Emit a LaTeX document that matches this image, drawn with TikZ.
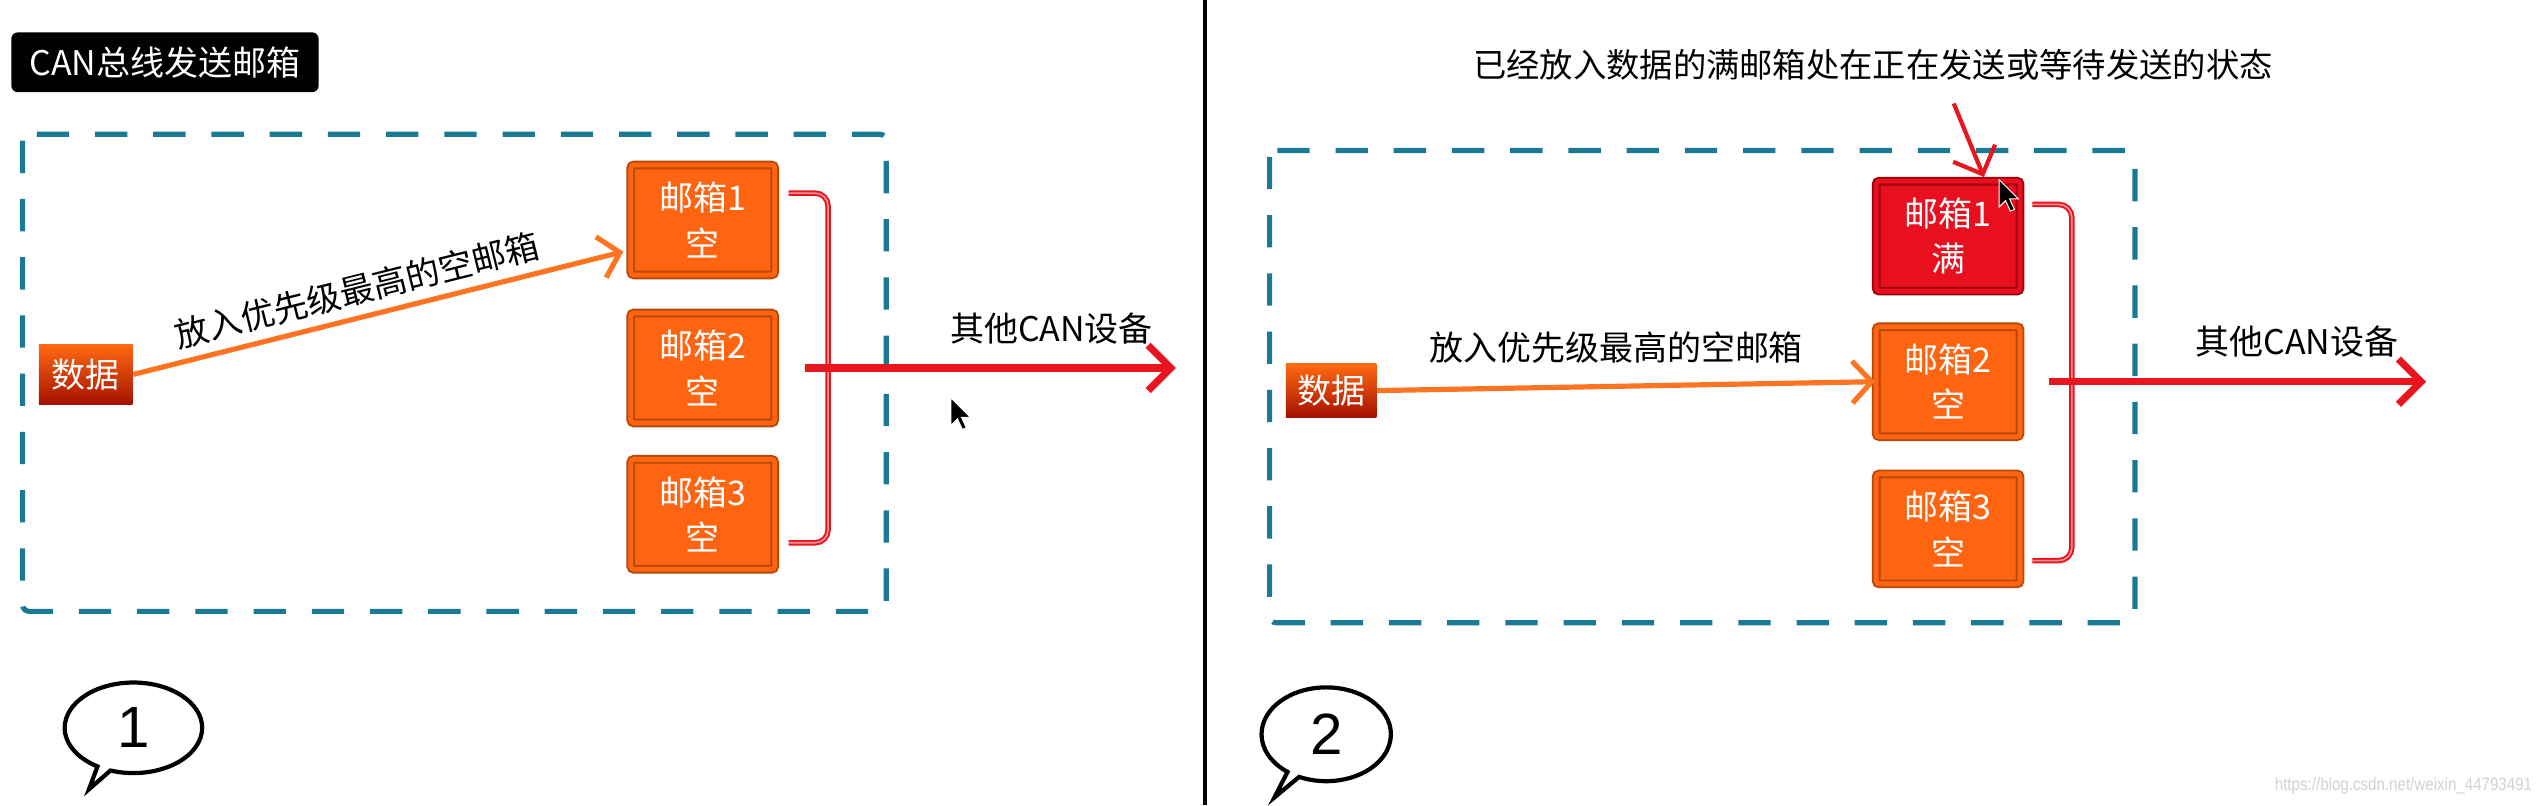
\documentclass[tikz,border=0pt]{standalone}
\usepackage{fontspec}
\usepackage{graphicx}
\setmainfont{Noto Sans CJK SC}
\newfontfamily\numfont{Liberation Sans}
\usetikzlibrary{arrows.meta,shapes.callouts,calc}
\definecolor{mbfill}{HTML}{FF6410}
\definecolor{mbborder}{HTML}{B8480A}
\definecolor{mbfullfill}{HTML}{E8101E}
\definecolor{mbfullborder}{HTML}{9A000E}
\definecolor{frameteal}{HTML}{1B7A93}
\definecolor{arrorange}{HTML}{FF7422}
\definecolor{arrred}{HTML}{E8141E}
\definecolor{datatop}{HTML}{FF6A12}
\definecolor{databot}{HTML}{A51000}
\tikzset{
  mailbox/.style={draw=mbborder, line width=0.6pt, double=mbfill, double distance=1.5pt,
    fill=mbfill, minimum width=44.5pt, minimum height=34pt, inner sep=0pt, align=center,
    text=white, font=\fontsize{10.5}{14}\selectfont, rounded corners=1pt},
  fullbox/.style={mailbox, draw=mbfullborder, double=mbfullfill, fill=mbfullfill},
  databox/.style={top color=datatop, bottom color=databot, draw=none, text=white,
    inner sep=0pt, font=\fontsize{10.5}{12}\selectfont},
  frame/.style={draw=frameteal, line width=1.6pt, dash pattern=on 10pt off 8pt, rounded corners=2pt},
  orangearrow/.style={draw=arrorange, line width=1.6pt, -{Straight Barb[length=6pt,width=13pt]}},
  redarrow/.style={draw=arrred, line width=2.2pt, -{Straight Barb[length=7pt,width=14pt]}},
  bracketline/.style={draw=arrred, line width=0.6pt, double=arrred!45!white, double distance=0.5pt, rounded corners=4pt},
  lbl/.style={text=black, font=\fontsize{10.5}{12}\selectfont},
  bubble/.style={ellipse callout, draw=black, line width=1.3pt, fill=white, inner sep=0pt,
    callout pointer arc=12, font=\numfont\fontsize{18}{18}\selectfont},
  cursor/.pic={\filldraw[fill=black, draw=white, line width=0.3pt] (0,0) -- (0,17) -- (4,13) -- (7,19.5) -- (9.5,18.5) -- (6.5,12) -- (12,12) -- cycle;}
}
\begin{document}
\begin{tikzpicture}[x=0.5pt,y=-0.5pt]
\useasboundingbox (0,0) rectangle (1568,498);
\fill[white] (0,0) rectangle (1568,498);

% separator
\draw[line width=1.2pt] (745,0) -- (745,498);

% ===== left panel =====
\node[fill=black, rounded corners=2pt, minimum width=95pt, minimum height=18.5pt, text=white,
  font=\fontsize{10.5}{12}\selectfont] (title) at (102,38.5) {CAN总线发送邮箱};
\draw[frame] (14,83) rectangle (548,378);

\node[mailbox] (mb1) at (434.5,136) {邮箱1\\空};
\node[mailbox] (mb2) at (434.5,227.5) {邮箱2\\空};
\node[mailbox] (mb3) at (434.5,318) {邮箱3\\空};
\node[databox, minimum width=29pt, minimum height=18.5pt] (d1) at (53,231.5) {数据};

\coordinate (b1s) at ([xshift=4pt,yshift=-9pt]mb1.north east);
\coordinate (b1e) at ([xshift=4pt,yshift=8.5pt]mb3.south east);
\coordinate (j1) at (512,227.5);
\coordinate (o1) at (727,227.5);
\draw[bracketline] (b1s) -| (j1) |- (b1e);
\draw[redarrow] ([xshift=9pt]mb2.east) -- node[lbl, pos=0.665, above=3pt] {其他CAN设备} (o1);

\draw[orangearrow] (d1.east) -- node[lbl, sloped, above, pos=0.47, inner sep=2.8pt] {放入优先级最高的空邮箱}
  ([xshift=-2pt,yshift=7.5pt]mb1.south west);

\pic at (588,246) {cursor};

\node[bubble, minimum width=42.5pt, minimum height=28pt, callout absolute pointer={(55,488)}] (bub1) at (82.5,450) {1};

% ===== right panel =====
\draw[frame] (785,93) rectangle (1320,385);
\node[lbl, font=\fontsize{10.3}{12}\selectfont] (note) at (1158,40) {已经放入数据的满邮箱处在正在发送或等待发送的状态};

\node[fullbox] (mb1r) at (1204.5,146) {邮箱1\\满};
\node[mailbox] (mb2r) at (1204.5,236) {邮箱2\\空};
\node[mailbox] (mb3r) at (1204.5,327) {邮箱3\\空};
\node[databox, minimum width=28pt, minimum height=16.5pt] (d2) at (823,241.5) {数据};

\coordinate (b2s) at ([xshift=3.5pt,yshift=-7.5pt]mb1r.north east);
\coordinate (b2e) at ([xshift=3.5pt,yshift=7.5pt]mb3r.south east);
\coordinate (j2) at (1281,236);
\coordinate (o2) at (1500,236);
\draw[bracketline] (b2s) -| (j2) |- (b2e);
\draw[redarrow] ([xshift=8.5pt]mb2r.east) -- node[lbl, pos=0.658, above=3pt] {其他CAN设备} (o2);

\draw[orangearrow] (d2.east) -- node[lbl, pos=0.48, above=3pt] {放入优先级最高的空邮箱} (mb2r.west);

\coordinate (a0) at (1208,64);
\draw[redarrow, line width=1.3pt] (a0) -- ([xshift=-11.5pt,yshift=1pt]mb1r.north east);

\pic at (1236,111) {cursor};

\node[bubble, minimum width=40pt, minimum height=29pt, callout absolute pointer={(788,493)}] (bub2) at (820,454) {2};

\node[anchor=east, inner sep=1pt, text=gray!35, font=\numfont\fontsize{5.5}{6}\selectfont] (wm) at (1568,486)
  {\scalebox{0.85}[1]{https://blog.csdn.net/weixin\_44793491}};
\end{tikzpicture}
\end{document}
